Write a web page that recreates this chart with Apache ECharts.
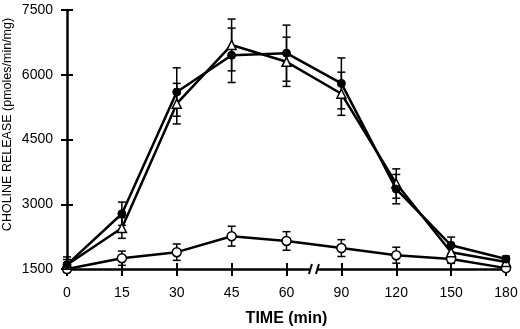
<!DOCTYPE html>
<html>
<head>
<meta charset="utf-8">
<script src="https://cdn.jsdelivr.net/npm/echarts@6/dist/echarts.min.js"></script>
<style>
  html, body { margin: 0; padding: 0; background: #fff; }
  #chart { width: 520px; height: 329px; }
</style>
</head>
<body>
<div id="chart"></div>
<script>
// time points (axis is broken between 60 and 90)
var times = ['0', '15', '30', '45', '60', '90', '120', '150', '180'];
var yTicks = [1500, 3000, 4500, 6000, 7500];

// filled circles
var filledVals = [1600, 2780, 5600, 6450, 6500, 5800, 3350, 2050, 1730];
var filledErr  = [180, 270, 560, 630, 650, 590, 340, 190, 70];
// open triangles
var triVals = [1600, 2450, 5330, 6690, 6300, 5560, 3480, 1890, 1660];
var triErr  = [120, 240, 470, 600, 570, 500, 340, 150, 60];
// open circles
var openVals = [1500, 1750, 1890, 2260, 2150, 1985, 1820, 1730, 1520];
var openErr  = [60, 165, 190, 230, 215, 195, 185, 100, 40];

var chart = echarts.init(document.getElementById('chart'));
var font = 'Liberation Sans, Arial, sans-serif';

function errData(vals, errs) {
    return vals.map((v, i) => [i, v - errs[i], v + errs[i]]);
}

function errSeries(vals, errs) {
    return {
        type: 'custom',
        z: 1,
        silent: true,
        data: errData(vals, errs),
        renderItem: function (params, api) {
            var lo = api.coord([api.value(0), api.value(1)]);
            var hi = api.coord([api.value(0), api.value(2)]);
            var w = 4;
            var st = { stroke: '#000', lineWidth: 1.5 };
            return {
                type: 'group',
                children: [
                    { type: 'line', shape: { x1: hi[0], y1: hi[1], x2: lo[0], y2: lo[1] }, style: st },
                    { type: 'line', shape: { x1: hi[0] - w, y1: hi[1], x2: hi[0] + w, y2: hi[1] }, style: st },
                    { type: 'line', shape: { x1: lo[0] - w, y1: lo[1], x2: lo[0] + w, y2: lo[1] }, style: st }
                ]
            };
        }
    };
}

var lineStyle = { color: '#000', width: 2.5 };

var option = {
    animation: false,
    grid: { left: 67, right: 14, top: 10, bottom: 60, containLabel: false, outerBoundsMode: 'none' },
    xAxis: [
        {
            type: 'category',
            data: times,
            boundaryGap: false,
            axisLine: { lineStyle: { color: '#000', width: 2.5 } },
            axisTick: { alignWithLabel: true, length: 7, lineStyle: { color: '#000', width: 2 } },
            axisLabel: { color: '#000', fontSize: 14, fontFamily: font, margin: 17 },
            name: 'TIME (min)',
            nameLocation: 'middle',
            nameGap: 42,
            nameTextStyle: { color: '#000', fontSize: 16, fontFamily: font, fontWeight: 'bold' },
            splitLine: { show: false }
        },
        {
            type: 'category',
            data: times,
            boundaryGap: false,
            position: 'bottom',
            axisLine: { show: false },
            axisTick: { inside: true, length: 6, lineStyle: { color: '#000', width: 2 } },
            axisLabel: { show: false },
            splitLine: { show: false }
        }
    ],
    yAxis: [
        {
            type: 'value',
            min: 1500,
            max: 7500,
            interval: 1500,
            axisLine: { show: true, lineStyle: { color: '#000', width: 2.5 } },
            axisTick: { show: true, length: 6, lineStyle: { color: '#000', width: 2 } },
            axisLabel: {
                color: '#000', fontSize: 14, fontFamily: font, margin: 14,
                formatter: function (v) { return yTicks.indexOf(v) >= 0 ? String(v) : ''; }
            },
            splitLine: { show: false },
            name: 'CHOLINE RELEASE (pmoles/min/mg)',
            nameLocation: 'middle',
            nameGap: 53,
            nameMoveOverlap: false,
            nameTextStyle: { color: '#000', fontSize: 12.5, fontFamily: font, padding: [0, 0, 0, 30] }
        },
        {
            type: 'value',
            min: 1500,
            max: 7500,
            interval: 1500,
            position: 'left',
            axisLine: { show: false },
            axisTick: { show: true, inside: true, length: 6, lineStyle: { color: '#000', width: 2 } },
            axisLabel: { show: false },
            splitLine: { show: false }
        }
    ],
    series: [
        errSeries(openVals, openErr),
        errSeries(triVals, triErr),
        errSeries(filledVals, filledErr),
        {
            type: 'line', data: openVals, z: 3,
            symbol: 'circle', symbolSize: 9,
            lineStyle: lineStyle,
            itemStyle: { color: '#fff', borderColor: '#000', borderWidth: 1.5 }
        },
        {
            type: 'line', data: triVals, z: 3,
            symbol: 'triangle', symbolSize: 9,
            lineStyle: lineStyle,
            itemStyle: { color: '#fff', borderColor: '#000', borderWidth: 1.5 }
        },
        {
            type: 'line', data: filledVals, z: 4,
            symbol: 'circle', symbolSize: 8,
            lineStyle: lineStyle,
            itemStyle: { color: '#000', borderColor: '#000', borderWidth: 1 }
        }
    ]
};

option && chart.setOption(option);

// axis break mark "//" between 60 and 90
var p60 = chart.convertToPixel({ xAxisIndex: 0, yAxisIndex: 0 }, [4, 1500]);
var p90 = chart.convertToPixel({ xAxisIndex: 0, yAxisIndex: 0 }, [5, 1500]);
var bx = (p60[0] + p90[0]) / 2;
var by = p60[1];
chart.setOption({
    graphic: [
        { type: 'rect', shape: { x: bx - 3, y: by - 3, width: 6, height: 6 }, style: { fill: '#fff' }, z: 100 },
        { type: 'line', shape: { x1: bx - 5, y1: by + 5, x2: bx - 2, y2: by - 5 }, style: { stroke: '#000', lineWidth: 2 }, z: 101 },
        { type: 'line', shape: { x1: bx + 2, y1: by + 5, x2: bx + 5, y2: by - 5 }, style: { stroke: '#000', lineWidth: 2 }, z: 101 }
    ]
});
</script>
</body>
</html>
